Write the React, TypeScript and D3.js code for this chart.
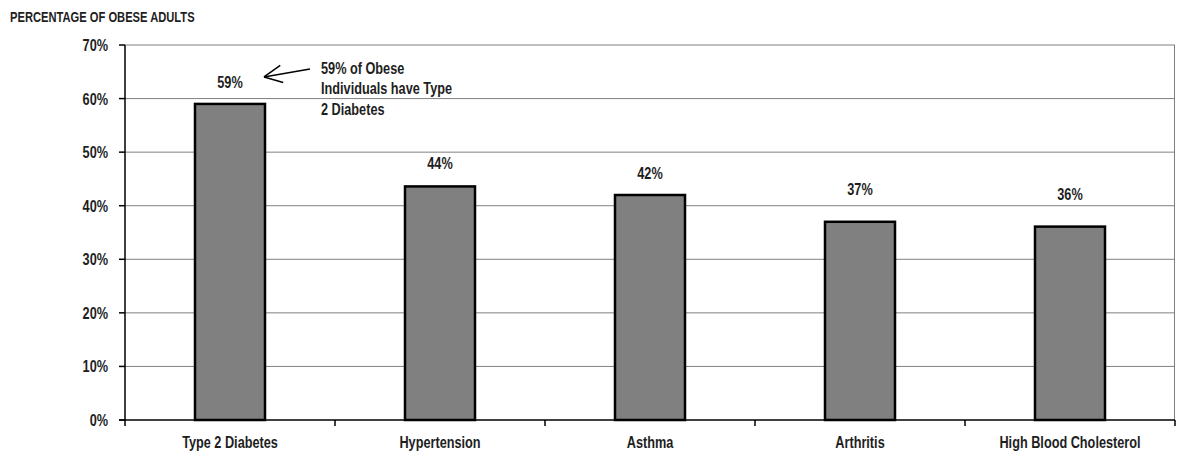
import React from "react";
import * as d3 from "d3";

// Share of obese adults with each condition
const conditions = ["Type 2 Diabetes", "Hypertension", "Asthma", "Arthritis", "High Blood Cholesterol"];
const shares = [0.59, 0.436, 0.42, 0.37, 0.361];
const yTicks = [0, 0.1, 0.2, 0.3, 0.4, 0.5, 0.6, 0.7];
const noteLines = ["59% of Obese", "Individuals have Type", "2 Diabetes"];
const title = "PERCENTAGE OF OBESE ADULTS";

// gap (px) between each bar top and its value label
const labelGap = [16, 17, 16, 27, 27];

const W = 1177;
const H = 455;
const margin = { top: 45, right: 2, bottom: 35, left: 125 };
const FONT = "'Liberation Sans', Arial, sans-serif";
const SQUEEZE = 0.77;
const TEXT_SIZE = 16.5;

// condensed text: squeeze horizontally around its anchor point
function Label({
  x,
  y,
  size,
  anchor = "start",
  dy,
  children,
}: {
  x: number;
  y: number;
  size: number;
  anchor?: "start" | "middle" | "end";
  dy?: string;
  children: React.ReactNode;
}) {
  return (
    <g transform={`translate(${x},${y}) scale(${SQUEEZE},1)`}>
      <text x={0} y={0} dy={dy} textAnchor={anchor} fontSize={size} fill="#1e1e1e">
        {children}
      </text>
    </g>
  );
}

export default function App() {
  const x = d3
    .scaleBand<string>()
    .domain(conditions)
    .range([margin.left, W - margin.right])
    .paddingInner(0)
    .paddingOuter(0);
  const y = d3.scaleLinear().domain([0, 0.7]).range([H - margin.bottom, margin.top]);
  const pct = d3.format(".0%");
  const bw = x.bandwidth() / 3;
  const x0 = margin.left;
  const x1 = W - margin.right;
  const y0 = y(0);
  const yTop = y(0.7);
  const boundaries = [...conditions.map((c) => x(c)!), x1];

  const firstCx = x(conditions[0])! + x.bandwidth() / 2;
  const firstTop = y(shares[0]);
  // arrow pointing from the note back to the first bar's label
  const tip = { x: firstCx + 34, y: firstTop - 27 };
  const tail = { x: firstCx + 80, y: firstTop - 35 };
  const ang = Math.atan2(tail.y - tip.y, tail.x - tip.x);
  const headLen = 20;
  const headSpread = 0.45;
  const h1 = { x: tip.x + headLen * Math.cos(ang - headSpread), y: tip.y + headLen * Math.sin(ang - headSpread) };
  const h2 = { x: tip.x + headLen * Math.cos(ang + headSpread), y: tip.y + headLen * Math.sin(ang + headSpread) };

  return (
    <svg
      width={W}
      height={H}
      style={{ position: "absolute", left: 0, top: 0, background: "#fff" }}
      fontFamily={FONT}
      fontWeight="bold"
    >
      <Label x={10} y={22} size={14.5}>
        {title}
      </Label>

      {/* gridlines */}
      {yTicks.slice(1).map((t) => (
        <line key={t} x1={x0} x2={x1} y1={y(t)} y2={y(t)} stroke="#808080" strokeWidth={1} />
      ))}
      <line x1={x1 - 0.5} x2={x1 - 0.5} y1={yTop} y2={y0} stroke="#808080" strokeWidth={1} />

      {/* y axis */}
      <line x1={x0} x2={x0} y1={yTop} y2={y0} stroke="#000" strokeWidth={1.5} />
      {yTicks.map((t) => (
        <g key={t}>
          <line x1={x0 - 6} x2={x0} y1={y(t)} y2={y(t)} stroke="#000" strokeWidth={1.5} />
          <Label x={x0 - 17} y={y(t)} dy="0.36em" anchor="end" size={TEXT_SIZE}>
            {pct(t)}
          </Label>
        </g>
      ))}

      {/* bars */}
      {conditions.map((c, i) => {
        const cx = x(c)! + x.bandwidth() / 2;
        return (
          <g key={c}>
            <rect
              x={cx - bw / 2}
              y={y(shares[i])}
              width={bw}
              height={y0 - y(shares[i])}
              fill="#808080"
              stroke="#000"
              strokeWidth={2.5}
            />
            <Label x={cx} y={y(shares[i]) - labelGap[i]} anchor="middle" size={TEXT_SIZE}>
              {pct(shares[i])}
            </Label>
          </g>
        );
      })}

      {/* x axis */}
      <line x1={x0 - 6} x2={x1} y1={y0} y2={y0} stroke="#000" strokeWidth={1.5} />
      {boundaries.map((bx, i) => (
        <line key={i} x1={bx} x2={bx} y1={y0} y2={y0 + 6} stroke="#000" strokeWidth={1.5} />
      ))}
      {conditions.map((c) => (
        <Label key={c} x={x(c)! + x.bandwidth() / 2} y={y0 + 28} anchor="middle" size={TEXT_SIZE}>
          {c}
        </Label>
      ))}

      {/* annotation */}
      <g stroke="#000" strokeWidth={1.5} fill="none">
        <line x1={tail.x} y1={tail.y} x2={tip.x} y2={tip.y} />
        <line x1={h1.x} y1={h1.y} x2={tip.x} y2={tip.y} />
        <line x1={h2.x} y1={h2.y} x2={tip.x} y2={tip.y} />
      </g>
      {noteLines.map((line, i) => (
        <Label key={line} x={321} y={firstTop - 30 + i * 20.5} size={TEXT_SIZE}>
          {line}
        </Label>
      ))}
    </svg>
  );
}
